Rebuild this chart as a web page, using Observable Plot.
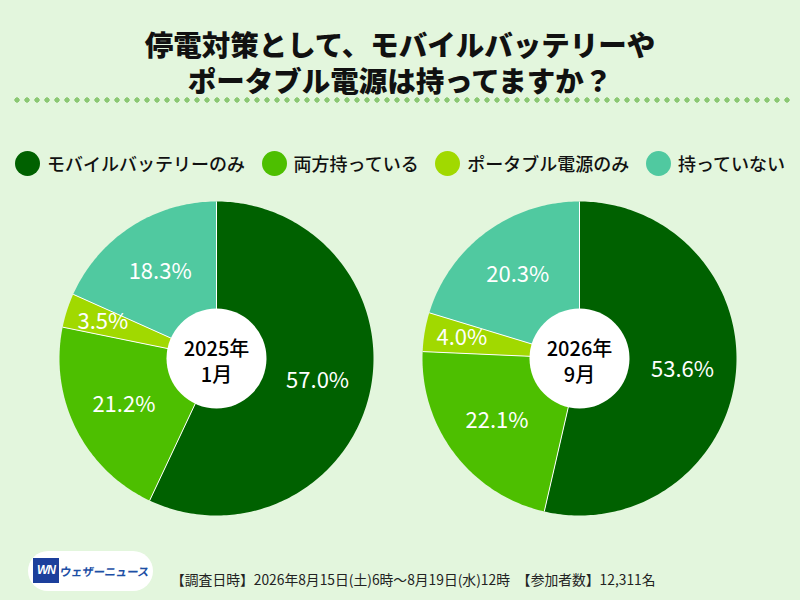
<!DOCTYPE html>
<html>
<head>
<meta charset="utf-8">
<script src="https://cdn.jsdelivr.net/npm/d3@7"></script>
<script src="https://cdn.jsdelivr.net/npm/@observablehq/plot@0.6"></script>
<style>
  body { margin: 0; }
  #page { position: relative; width: 800px; height: 600px; background: #e3f6dd; overflow: hidden;
          font-family: "Noto Sans CJK JP", "Noto Sans", sans-serif; color: #111; }
  #title { position: absolute; top: 26px; left: 0; width: 800px; text-align: center;
           font-size: 28.5px; font-weight: 900; line-height: 36px; }
  #dots { position: absolute; top: 97px; left: 12px; width: 780px; height: 6px;
          background: radial-gradient(circle, #8bc873 2.4px, rgba(139,200,115,0) 2.9px) repeat-x;
          background-size: 10px 6px; }
  #legend { position: absolute; top: 150px; left: 15px; width: 770px; height: 26px;
            display: flex; justify-content: space-between; align-items: center; }
  .item { display: flex; align-items: center; font-size: 18px; font-weight: 500; }
  .sw { width: 25px; height: 25px; border-radius: 50%; margin-right: 7px; }
  #chart { position: absolute; top: 190px; left: 0; }
  #logo { position: absolute; left: 28px; top: 551px; width: 125px; height: 40px; border-radius: 20px; background: #fff; }
  #logo .box { position: absolute; left: 5px; top: 7px; width: 26px; height: 25px; background: #1c3f9c;
               color: #fff; font: italic bold 12px "Liberation Sans", sans-serif; line-height: 25px; text-align: center; letter-spacing: -1px; }
  #logo .name { position: absolute; left: 32px; top: 11px; font-size: 11.5px; font-weight: bold; color: #1d4fa5; line-height: 18px;
                white-space: nowrap; transform: skewX(-8deg); letter-spacing: -0.3px; }
  #note { position: absolute; left: 171px; top: 570px; font-size: 13.8px; line-height: 18px; color: #222; white-space: nowrap; }
</style>
</head>
<body>
<div id="page">
  <div id="title">停電対策として、モバイルバッテリーや<br>ポータブル電源は持ってますか？</div>
  <div id="dots"></div>
  <div id="legend"></div>
  <div id="chart"></div>
  <div id="logo"><div class="box">WN</div><div class="name">ウェザーニュース</div></div>
  <div id="note">【調査日時】2026年8月15日(土)6時～8月19日(水)12時　【参加者数】12,311名</div>
</div>
<script>
// ---- data ----
const categories = ["モバイルバッテリーのみ", "両方持っている", "ポータブル電源のみ", "持っていない"];
const colors = ["#006100", "#4dbf00", "#a1d900", "#50c9a0"];
const periods = ["2025年\n1月", "2026年\n9月"];
const values2025 = [57.0, 21.2, 3.5, 18.3];
const values2026 = [53.6, 22.1, 4.0, 20.3];
const seriesValues = [values2025, values2026];

// ---- legend ----
const legend = document.getElementById("legend");
categories.forEach((c, i) => {
  const it = document.createElement("div");
  it.className = "item";
  it.innerHTML = `<span class="sw" style="background:${colors[i]}"></span><span>${c}</span>`;
  legend.appendChild(it);
});

// ---- layout (px) ----
const W = 800, H = 340, R = 157;
const centersPx = [216, 579];
const centerYPx = 168;
// units: 1 unit = one pie radius
const pies = periods.map((p, k) => ({ period: p, cx: centersPx[k] / R, cy: centerYPx / R }));

const slicePts = [], seps = [], labels = [];
pies.forEach((pie, k) => {
  const vals = seriesValues[k];
  const total = d3.sum(vals);
  let acc = 0;
  vals.forEach((v, i) => {
    const a0 = acc / total * 2 * Math.PI;
    acc += v;
    const a1 = acc / total * 2 * Math.PI;
    const key = k + "-" + i;
    slicePts.push({ key, cat: categories[i], x: pie.cx, y: pie.cy });
    const n = Math.max(2, Math.ceil((a1 - a0) / (Math.PI / 180)));
    for (let j = 0; j <= n; j++) {
      const a = a0 + (a1 - a0) * j / n;
      slicePts.push({ key, cat: categories[i], x: pie.cx + Math.sin(a), y: pie.cy - Math.cos(a) });
    }
    seps.push({ x1: pie.cx, y1: pie.cy, x2: pie.cx + Math.sin(a0), y2: pie.cy - Math.cos(a0) });
    const am = (a0 + a1) / 2;
    const lr = v < 5 ? 0.76 : 0.66;
    labels.push({ text: v.toFixed(1) + "%", x: pie.cx + lr * Math.sin(am), y: pie.cy - lr * Math.cos(am) });
  });
});

const chart = Plot.plot({
  width: W, height: H,
  margin: 0,
  x: { domain: [0, W / R], range: [0, W], axis: null },
  y: { domain: [0, H / R], range: [0, H], axis: null },
  color: { domain: categories, range: colors },
  style: { background: "transparent", fontFamily: "'Noto Sans CJK JP', 'Noto Sans', sans-serif", overflow: "visible" },
  marks: [
    Plot.line(slicePts, { x: "x", y: "y", z: "key", fill: "cat", stroke: "none", curve: "linear" }),
    Plot.link(seps, { x1: "x1", y1: "y1", x2: "x2", y2: "y2", stroke: "white", strokeWidth: 1 }),
    Plot.dot(pies, { x: "cx", y: "cy", r: 50, fill: "white", stroke: "none" }),
    Plot.text(pies, { x: "cx", y: "cy", text: "period", fontSize: 20, fontWeight: 500, fill: "#000", lineHeight: 1.3, dy: 2 }),
    Plot.text(labels, { x: "x", y: "y", text: "text", fontSize: 22, fontWeight: 400, fill: "white" })
  ]
});
document.getElementById("chart").appendChild(chart);
</script>
</body>
</html>
